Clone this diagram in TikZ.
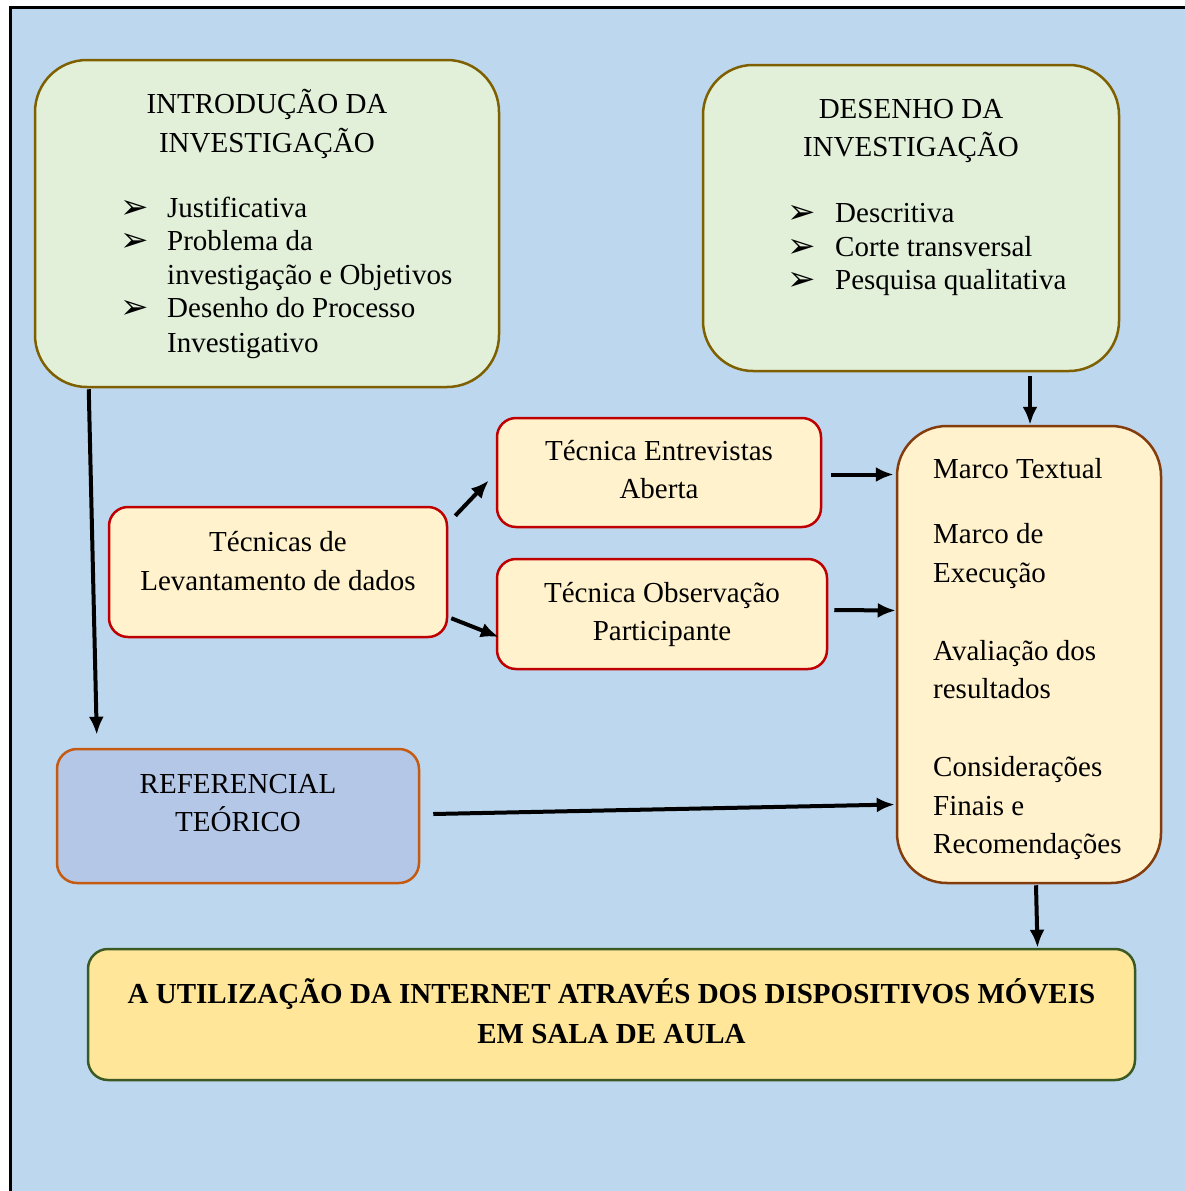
\documentclass[tikz,border=0pt]{standalone}
\usepackage{fontspec}
\setmainfont{Liberation Serif}
\newfontfamily\symfont{DejaVu Sans}
\usetikzlibrary{
  arrows.meta,
  positioning,
  calc
}
\definecolor{dgBack}{HTML}{BDD7EE}
\definecolor{dgGreen}{HTML}{E2F0D9}
\definecolor{dgGold}{HTML}{7F6000}
\definecolor{dgCream}{HTML}{FFF2CC}
\definecolor{dgRed}{HTML}{C00000}
\definecolor{dgBlue}{HTML}{B4C7E7}
\definecolor{dgOrange}{HTML}{C55A11}
\definecolor{dgBrown}{HTML}{843C0C}
\definecolor{dgYellow}{HTML}{FFE699}
\definecolor{dgDark}{HTML}{3B5A23}
\tikzset{
  dgnode/.style={draw, line width=2.5pt, inner sep=0pt},
  topbox/.style={dgnode, fill=dgGreen, draw=dgGold, rounded corners=52pt},
  tecbox/.style={dgnode, fill=dgCream, draw=dgRed, rounded corners=19pt},
  refbox/.style={dgnode, fill=dgBlue, draw=dgOrange, rounded corners=20pt},
  marcobox/.style={dgnode, fill=dgCream, draw=dgBrown, rounded corners=50pt},
  finalbox/.style={dgnode, fill=dgYellow, draw=dgDark, rounded corners=20pt},
  txt/.style={font=\fontsize{29}{34}\selectfont, inner sep=0pt, anchor=base},
  txtl/.style={txt, anchor=base west},
  bul/.style={font=\symfont\fontsize{34}{36}\selectfont, inner sep=0pt, anchor=base west},
  arr/.style={-{Latex[length=18pt, width=15pt]}, line width=4pt, black}
}
\begin{document}
\begin{tikzpicture}[x=1pt, y=-1pt]
  \useasboundingbox (0,0) rectangle (1185,1191);
  \fill[white] (0,0) rectangle (1185,1191);
  \draw[line width=3pt, fill=dgBack] (10,7) rectangle (1205,1215);

  % caixas
  \node[topbox, minimum width=464pt, minimum height=327pt] (intro) at (267,223.5) {};
  \node[topbox, minimum width=416pt, minimum height=306pt, rounded corners=50pt] (desenho) at (911,218) {};
  \node[tecbox, minimum width=338pt, minimum height=130pt] (lev) at (278,572) {};
  \node[tecbox, minimum width=324pt, minimum height=109pt] (entr) at (659,472.5) {};
  \node[tecbox, minimum width=330pt, minimum height=110pt] (obs) at (662,614) {};
  \node[refbox, minimum width=362pt, minimum height=134pt] (ref) at (238,816) {};
  \node[marcobox, minimum width=264pt, minimum height=457pt] (marco) at (1029,654.5) {};
  \node[finalbox, minimum width=1047pt, minimum height=131pt] (final) at (611.5,1014.5) {};

  % textos
  \foreach \y/\t [count=\i] in {113/INTRODUÇÃO DA, 152/INVESTIGAÇÃO}
    \node[txt] (introT\i) at (267,\y) {\t};
  \foreach \y [count=\i] in {218,251,318}
    \node[bul] (introB\i) at (120,\y) {➢};
  \foreach \y/\t [count=\i] in {217/Justificativa, 250/Problema da,
      284/investigação e Objetivos, 317/Desenho do Processo, 352/Investigativo}
    \node[txtl] (introL\i) at (167,\y) {\t};

  \foreach \y/\t [count=\i] in {118/DESENHO DA, 156/INVESTIGAÇÃO}
    \node[txt] (desT\i) at (911,\y) {\t};
  \foreach \y/\t [count=\i] in {222/Descritiva, 256/Corte transversal, 289/Pesquisa qualitativa}{
    \node[bul] (desB\i) at (787,\y+1) {➢};
    \node[txtl] (desL\i) at (835,\y) {\t};
  }

  \node[txt] (levT1) at (278,551) {Técnicas de};
  \node[txt] (levT2) at (278,590) {Levantamento de dados};
  \node[txt] (entrT1) at (659,460) {Técnica Entrevistas};
  \node[txt] (entrT2) at (659,498) {Aberta};
  \node[txt] (obsT1) at (662,602) {Técnica Observação};
  \node[txt] (obsT2) at (662,640) {Participante};
  \node[txt] (refT1) at (238,793) {REFERENCIAL};
  \node[txt] (refT2) at (238,831) {TEÓRICO};

  \foreach \y/\t [count=\i] in {478/Marco Textual, 543/Marco de, 582/Execução,
      660/Avaliação dos, 698/resultados, 776/Considerações, 815/Finais e,
      853/Recomendações}
    \node[txtl] (marcoL\i) at (933,\y) {\t};

  \node[txt, font=\fontsize{29}{34}\selectfont\bfseries] (finalT1) at (611.5,1003)
    {A UTILIZAÇÃO DA INTERNET ATRAVÉS DOS DISPOSITIVOS MÓVEIS};
  \node[txt, font=\fontsize{29}{34}\selectfont\bfseries] (finalT2) at (611.5,1043)
    {EM SALA DE AULA};

  % setas
  \draw[arr] ($(intro.south west)+(55,1)$) -- ($(ref.north west)+(41,-13)$);
  \draw[arr] ($(desenho.south)+(119,4)$) -- ($(marco.north)+(1,0)$);
  \draw[arr] ($(lev.north east)+(7,10)$) -- ($(entr.west)+(-7,8)$);
  \draw[arr] ($(lev.south east)+(3,-20)$) -- ($(obs.west)+(3,23)$);
  \draw[arr] ($(entr.east)+(9,2)$) -- ($(marco.west)+(-2,-180)$);
  \draw[arr] ($(obs.east)+(6,-4)$) -- ($(marco.west)+(0,-44)$);
  \draw[arr] ($(ref.east)+(13,-2)$) -- ($(marco.west)+(-1,150)$);
  \draw[arr] ($(marco.south)+(7,1)$) -- ($(final.north)+(426,0)$);
\end{tikzpicture}
\end{document}
